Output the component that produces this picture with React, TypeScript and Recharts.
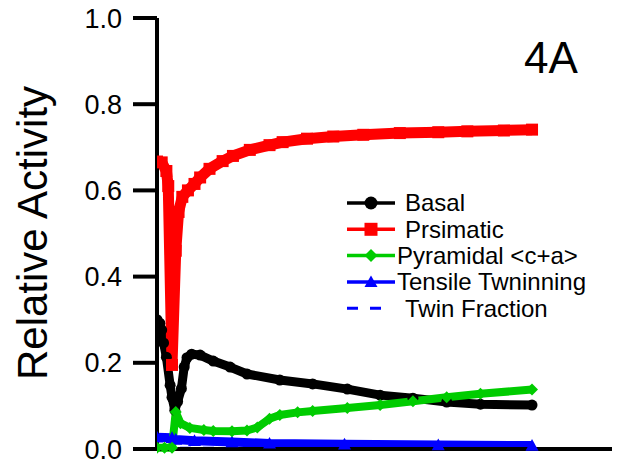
import React from "react";
import { LineChart, Line, XAxis, YAxis, Legend, Customized } from "recharts";

// values (x in tick units, y = relative activity)
const basalX = [0, 0.03, 0.05, 0.07, 0.1, 0.14, 0.16, 0.19, 0.22, 0.26, 0.29, 0.32, 0.37, 0.46, 0.6, 0.78, 0.96, 1.31, 1.66, 2.03, 2.38, 2.73, 3.09, 3.45, 4.0];
const basalY = [0.3, 0.292, 0.276, 0.246, 0.213, 0.148, 0.12, 0.09, 0.11, 0.14, 0.19, 0.212, 0.22, 0.218, 0.204, 0.19, 0.174, 0.16, 0.151, 0.139, 0.125, 0.118, 0.109, 0.104, 0.102];

const prismX = [0, 0.05, 0.1, 0.12, 0.16, 0.2, 0.23, 0.27, 0.33, 0.4, 0.46, 0.56, 0.7, 0.81, 0.99, 1.2, 1.34, 1.6, 1.88, 2.2, 2.59, 3.0, 3.31, 3.7, 4.0];
const prismY = [0.667, 0.665, 0.645, 0.61, 0.195, 0.46, 0.55, 0.585, 0.6, 0.615, 0.63, 0.65, 0.668, 0.68, 0.694, 0.705, 0.712, 0.72, 0.725, 0.729, 0.733, 0.735, 0.737, 0.739, 0.741];

const pyrX = [0, 0.08, 0.16, 0.2, 0.25, 0.35, 0.5, 0.6, 0.8, 0.96, 1.07, 1.2, 1.31, 1.5, 1.66, 2.03, 2.38, 2.73, 3.09, 3.45, 4.0];
const pyrY = [0.003, 0.003, 0.003, 0.086, 0.06, 0.049, 0.044, 0.042, 0.041, 0.043, 0.05, 0.07, 0.079, 0.085, 0.088, 0.095, 0.102, 0.111, 0.12, 0.128, 0.138];

const tensileX = [0, 0.16, 0.2, 0.4, 0.8, 1.2, 2.0, 3.0, 4.0];
const tensileY = [0.027, 0.026, 0.022, 0.019, 0.016, 0.013, 0.011, 0.009, 0.008];

const twinX = [0, 1, 2, 3, 4];
const twinY = [0.002, 0.002, 0.002, 0.002, 0.002];

const yTicks = [0, 0.2, 0.4, 0.6, 0.8, 1.0];
const xTicks = [0, 1, 2, 3, 4];

const toPoints = (xs: number[], ys: number[]) => xs.map((x, i) => ({ x, y: ys[i] }));

type Shape = "circle" | "square" | "diamond" | "triangle" | "none";

const series = [
  { name: "Basal", color: "#000000", shape: "circle" as Shape, width: 9, size: 11, data: toPoints(basalX, basalY) },
  { name: "Prsimatic", color: "#ff0000", shape: "square" as Shape, width: 11, size: 12, data: toPoints(prismX, prismY) },
  { name: "Pyramidal <c+a>", color: "#00cc00", shape: "diamond" as Shape, width: 8, size: 12, data: toPoints(pyrX, pyrY) },
  { name: "Tensile Twninning", color: "#0000ff", shape: "triangle" as Shape, width: 9, size: 13, data: toPoints(tensileX, tensileY) },
  { name: "Twin Fraction", color: "#0000ff", shape: "none" as Shape, width: 3, size: 0, data: toPoints(twinX, twinY) },
];

// back to front, as in the original figure
const drawOrder = [4, 3, 0, 2, 1];
const legendTextX = [58, 58, 50, 50, 58];

function Marker({ shape, cx, cy, color, size }: { shape: Shape; cx: number; cy: number; color: string; size: number }) {
  const h = size / 2;
  if (shape === "circle") return <circle cx={cx} cy={cy} r={h} fill={color} />;
  if (shape === "square") return <rect x={cx - h} y={cy - h} width={size} height={size} fill={color} />;
  if (shape === "diamond")
    return <polygon points={`${cx},${cy - h} ${cx + h},${cy} ${cx},${cy + h} ${cx - h},${cy}`} fill={color} />;
  if (shape === "triangle")
    return <polygon points={`${cx},${cy - h} ${cx + h},${cy + h * 0.8} ${cx - h},${cy + h * 0.8}`} fill={color} />;
  return null;
}

function LegendBox() {
  return (
    <svg width={270} height={135} style={{ display: "block" }}>
      {series.map((s, i) => {
        const y = 13 + i * 26.3;
        return (
          <g key={s.name}>
            {s.shape === "none" ? (
              <line x1={0} x2={35} y1={y} y2={y} stroke={s.color} strokeWidth={3} strokeDasharray="11 12" />
            ) : (
              <>
                <line x1={0} x2={48} y1={y} y2={y} stroke={s.color} strokeWidth={3.5} />
                <Marker shape={s.shape} cx={24} cy={y} color={s.color} size={13} />
              </>
            )}
            <text
              x={legendTextX[i]}
              y={y}
              dy="0.35em"
              fontFamily="Liberation Sans, Arial, sans-serif"
              fontSize={24}
              fill="#000"
            >
              {s.name}
            </text>
          </g>
        );
      })}
    </svg>
  );
}

function Texts() {
  return (
    <g fontFamily="Liberation Sans, Arial, sans-serif" fill="#000">
      <text x={47} y={233} fontSize={42} textAnchor="middle" transform="rotate(-90 47 233)">
        Relative Activity
      </text>
      <text x={524} y={73} fontSize={44}>
        4A
      </text>
    </g>
  );
}

export default function App() {
  return (
    <div
      style={{
        position: "absolute",
        left: 0,
        top: 0,
        width: 618,
        height: 467,
        overflow: "hidden",
        background: "#fff",
      }}
    >
      <LineChart width={618} height={500} margin={{ top: 18, right: 6, bottom: 21, left: 0 }}>
        <XAxis
          type="number"
          dataKey="x"
          domain={[0, 4.853]}
          ticks={xTicks}
          tick={false}
          tickSize={24}
          height={30}
          axisLine={{ stroke: "#000", strokeWidth: 4 }}
          tickLine={{ stroke: "#000", strokeWidth: 4 }}
          allowDataOverflow
        />
        <XAxis
          xAxisId="top"
          orientation="top"
          type="number"
          dataKey="x"
          domain={[0, 4.853]}
          tick={false}
          tickLine={false}
          height={0}
          axisLine={{ stroke: "#000", strokeWidth: 4 }}
        />
        <YAxis
          type="number"
          domain={[0, 1]}
          ticks={yTicks}
          width={157}
          tickSize={24}
          tickMargin={11}
          tickFormatter={(v: number) => v.toFixed(1)}
          tick={{ fontSize: 27, fill: "#000", fontFamily: "Liberation Sans, Arial, sans-serif" }}
          axisLine={{ stroke: "#000", strokeWidth: 4 }}
          tickLine={{ stroke: "#000", strokeWidth: 4 }}
        />
        {drawOrder.map((idx) => {
          const s = series[idx];
          return (
            <Line
              key={s.name}
              name={s.name}
              data={s.data}
              dataKey="y"
              type="linear"
              stroke={s.color}
              strokeWidth={s.width}
              strokeLinejoin="round"
              strokeDasharray={s.shape === "none" ? "11 12" : undefined}
              isAnimationActive={false}
              dot={(p: any) => (
                <Marker
                  key={`${s.name}-${p.index}`}
                  shape={s.shape}
                  cx={p.cx}
                  cy={p.cy}
                  color={s.color}
                  size={s.size}
                />
              )}
              activeDot={false}
            />
          );
        })}
        <Legend
          layout="horizontal"
          verticalAlign="middle"
          align="center"
          wrapperStyle={{ left: 347, top: 190, width: 270, height: 135 }}
          content={() => <LegendBox />}
        />
        <Customized component={Texts} />
      </LineChart>
    </div>
  );
}
